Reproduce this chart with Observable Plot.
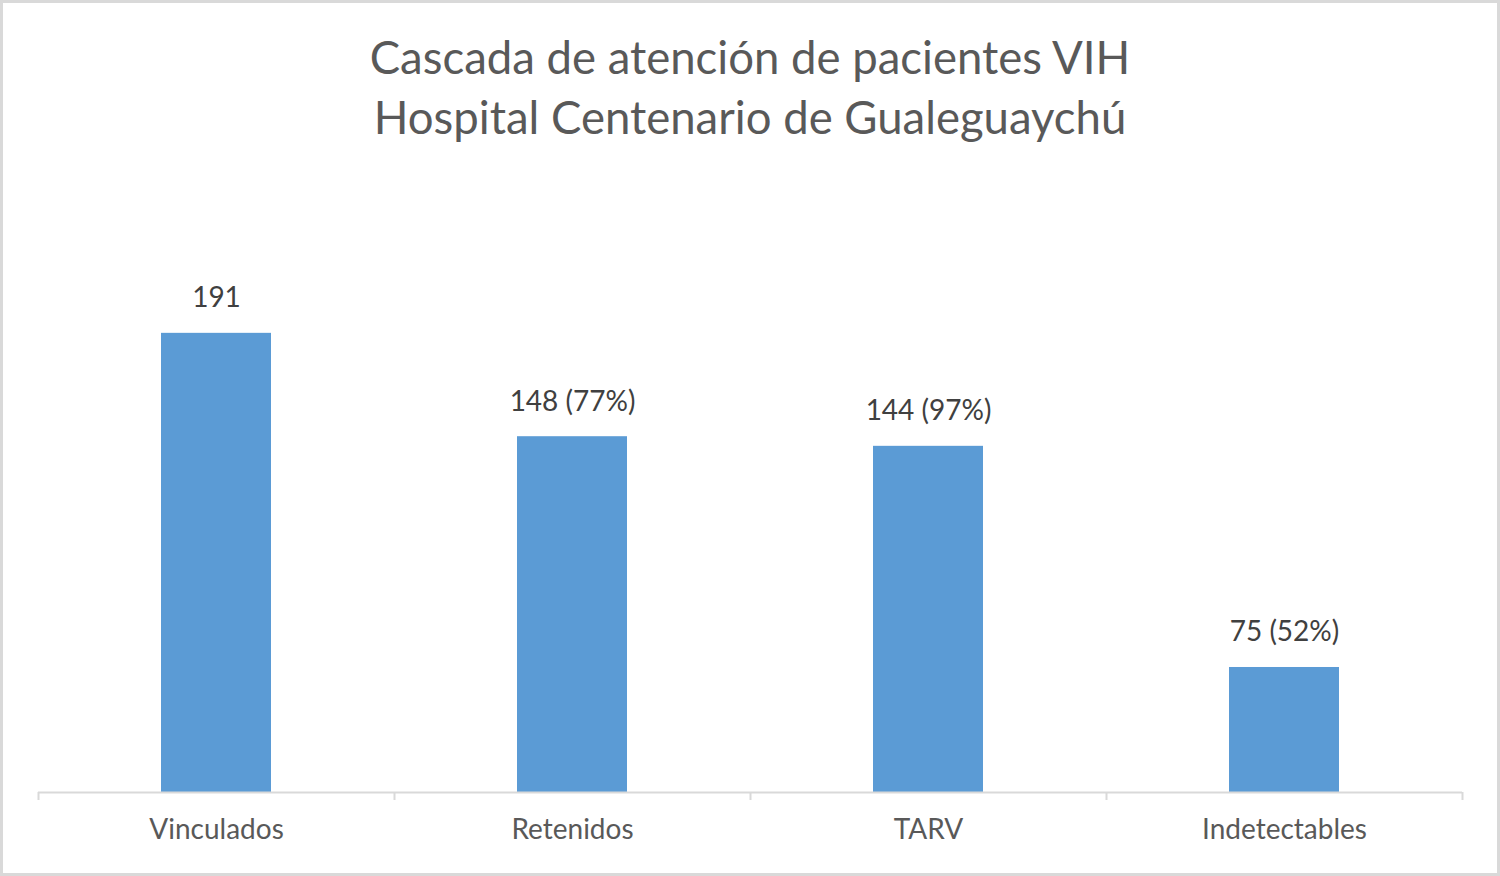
<!DOCTYPE html>
<html>
<head>
<meta charset="utf-8">
<script src="https://cdn.jsdelivr.net/npm/d3@7"></script>
<script src="https://cdn.jsdelivr.net/npm/@observablehq/plot@0.6"></script>
<style>
  html, body { margin: 0; padding: 0; background: #fff; }
  #wrap { position: relative; width: 1500px; height: 876px; overflow: hidden; background: #fff; font-family: Lato, "Open Sans", sans-serif; }
  #frame { position: absolute; left: 0; top: 0; width: 1500px; height: 876px; box-sizing: border-box; border: 3px solid #d9d9d9; pointer-events: none; }
  #title { position: absolute; left: 0; top: 0; width: 1500px; height: 160px; text-align: center; color: #595959; font-size: 45.5px; line-height: 60px; padding-top: 27px; box-sizing: border-box; }
  #chart { position: absolute; left: 0; top: 160px; }
</style>
</head>
<body>
<div id="wrap">
  <div id="title">Cascada de atención de pacientes VIH<br>Hospital Centenario de Gualeguaychú</div>
  <div id="chart"></div>
  <div id="frame"></div>
</div>
<script>
const categories = ["Vinculados", "Retenidos", "TARV", "Indetectables"];
const barValues = [191, 148, 144, 52];
const valueLabels = ["191", "148 (77%)", "144 (97%)", "75 (52%)"];

const data = categories.map((c, i) => ({cat: c, value: barValues[i], label: valueLabels[i]}));

const W = 1500, H = 716, mL = 38, mR = 38;
const step = (W - mL - mR) / categories.length;
const boundaries = categories.map(c => ({cat: c, dx: -step / 2}))
  .concat([{cat: categories[categories.length - 1], dx: step / 2}]);

const plot = Plot.plot({
  width: W,
  height: H,
  marginLeft: mL,
  marginRight: mR,
  marginTop: 31,
  marginBottom: 84,
  style: {fontFamily: "Lato, 'Open Sans', sans-serif", fontSize: "28px", color: "#595959", background: "transparent"},
  x: {domain: categories, paddingInner: 0.69, paddingOuter: 0.345, label: null},
  y: {domain: [0, 250], axis: null},
  marks: [
    Plot.barY(data, {x: "cat", y: "value", fill: "#5b9bd5"}),
    Plot.ruleY([0], {stroke: "#d9d9d9", strokeWidth: 2}),
    ...boundaries.map(b => Plot.ruleX([b], {x: "cat", y1: 0, y2: 0, insetBottom: -8, dx: b.dx, stroke: "#d9d9d9", strokeWidth: 2})),
    Plot.axisX({tickSize: 0, tickPadding: 27, fontSize: 28, fill: "#595959", label: null}),
    Plot.text(data, {x: "cat", y: "value", text: "label", lineAnchor: "bottom", dy: -26, fontSize: 28, fill: "#404040"})
  ]
});
document.getElementById("chart").appendChild(plot);
</script>
</body>
</html>
